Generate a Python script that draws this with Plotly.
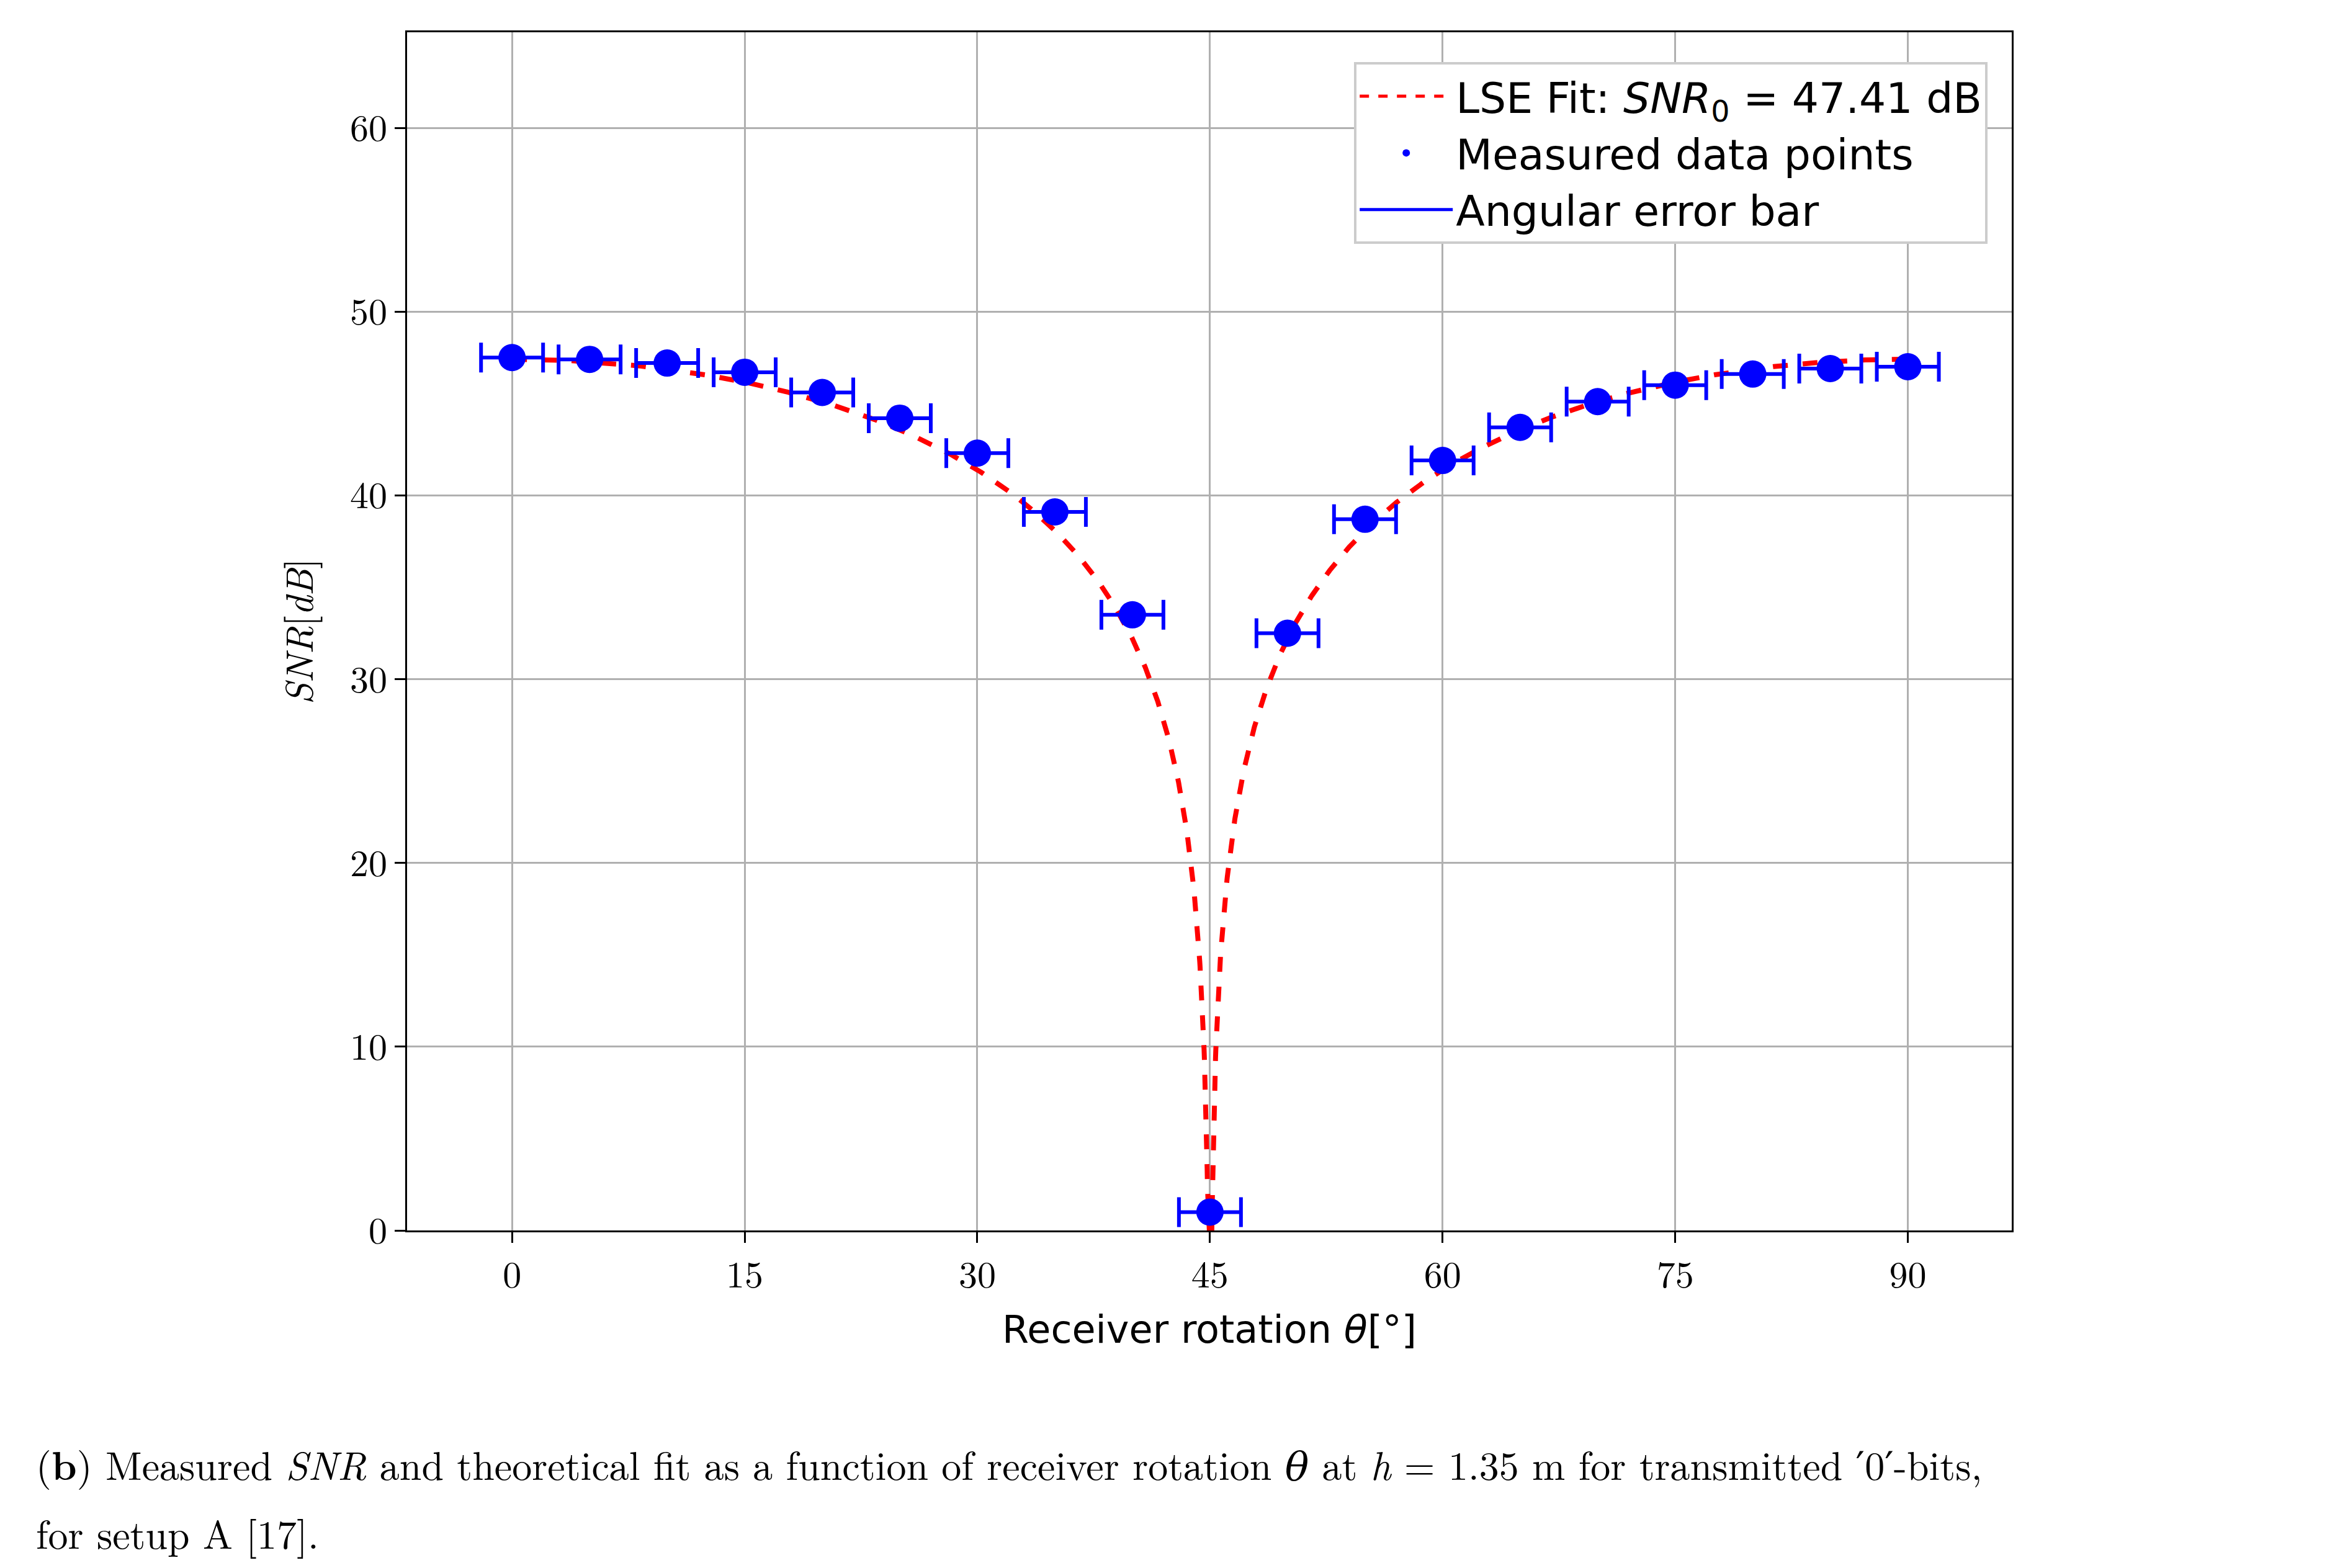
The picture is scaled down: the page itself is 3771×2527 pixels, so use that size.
import numpy as np
import plotly.graph_objects as go

angles = [0, 5, 10, 15, 20, 25, 30, 35, 40, 45, 50, 55, 60, 65, 70, 75, 80, 85, 90]
snr = [47.5, 47.4, 47.2, 46.7, 45.6, 44.2, 42.3, 39.1, 33.5, 1.0, 32.5, 38.7, 41.9, 43.7, 45.1, 46.0, 46.6, 46.9, 47.0]
ang_err = [2.0] * len(angles)
snr0 = 47.41
xticks = [0, 15, 30, 45, 60, 75, 90]
yticks = [0, 10, 20, 30, 40, 50, 60]

# theoretical fit model evaluated from fitted parameter
th = np.arange(0, 90.001, 0.02)
fit = snr0 + 20 * np.log10(np.maximum(np.abs(np.cos(np.radians(2 * th))), 1e-12))
fit = np.maximum(fit, 0)

sans = "DejaVu Sans"
serif = "Latin Modern Roman, DejaVu Serif, serif"
fig = go.Figure()
fig.add_trace(go.Scatter(x=th, y=fit, mode="lines", line=dict(color="red", width=8, dash="dash"),
                         name="LSE Fit: <i>SNR</i><sub>0</sub> = 47.41 dB"))
fig.add_trace(go.Scatter(x=angles, y=snr, mode="markers", marker=dict(color="blue", size=44),
                         name="Measured data points"))
fig.add_trace(go.Scatter(x=angles, y=snr, mode="markers", marker=dict(size=1, opacity=0),
                         error_x=dict(type="data", array=ang_err, color="blue", thickness=6, width=24),
                         showlegend=False))
fig.add_trace(go.Scatter(x=[None], y=[None], mode="lines", line=dict(color="blue", width=6),
                         name="Angular error bar"))

axcommon = dict(showline=True, linecolor="black", linewidth=3, mirror=True, ticks="outside",
                ticklen=17, tickwidth=3, tickcolor="black", showgrid=True, gridcolor="#b0b0b0",
                gridwidth=3, zeroline=False, tickfont=dict(family=serif, size=60, color="black"))
fig.update_xaxes(range=[-6.77, 96.7], tickvals=xticks, **axcommon,
                 title=dict(text="Receiver rotation <i>θ</i>[°]", font=dict(family=sans, size=62, color="black"), standoff=30))
fig.update_yaxes(range=[0, 65.2], tickvals=yticks, **axcommon,
                 title=dict(text="<i>SNR</i>[<i>dB</i>]", font=dict(family=serif, size=62, color="black"), standoff=40))
fig.update_layout(
    width=3771, height=2527, plot_bgcolor="white", paper_bgcolor="white",
    margin=dict(l=648, r=3771 - 3234, t=44, b=2527 - 1975, autoexpand=False),
    legend=dict(x=0.985, y=0.975, xanchor="right", yanchor="top", bgcolor="white",
                bordercolor="#cccccc", borderwidth=4, font=dict(family=sans, size=68, color="black"),
                itemwidth=150, itemsizing="constant", tracegroupgap=0),
    showlegend=True,
)
fig.add_annotation(xref="paper", yref="paper", x=-0.232, y=-0.194, xanchor="left", yanchor="middle",
                   showarrow=False, font=dict(family=serif, size=64, color="black"),
                   text="(<b>b</b>) Measured <i>SNR</i> and theoretical fit as a function of receiver rotation <i>θ</i> at <i>h</i> = 1.35 m for transmitted ′0′-bits,")
fig.add_annotation(xref="paper", yref="paper", x=-0.232, y=-0.252, xanchor="left", yanchor="middle",
                   showarrow=False, font=dict(family=serif, size=64, color="black"),
                   text="for setup A [17].")
fig.write_html("out.html")
